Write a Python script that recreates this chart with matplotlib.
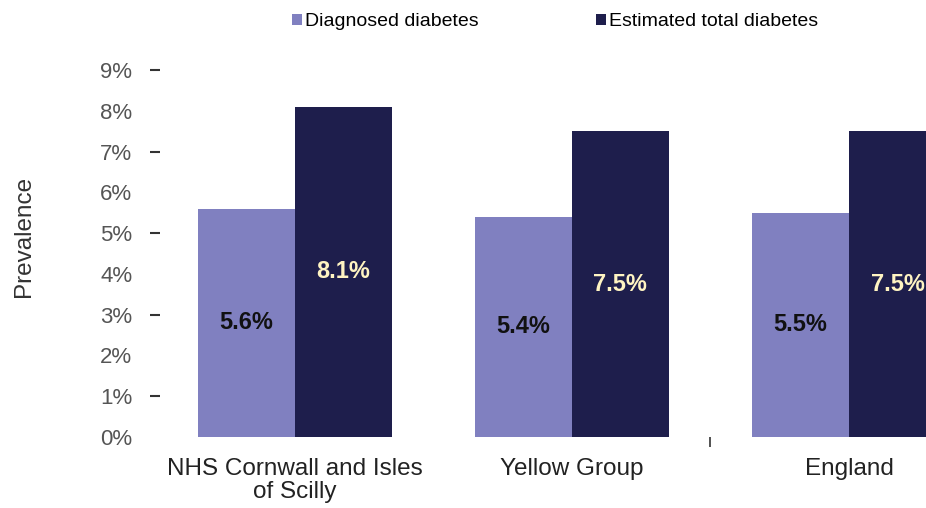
import matplotlib.pyplot as plt
import numpy as np

plt.rcParams['font.family'] = ['Liberation Sans', 'DejaVu Sans']

groups = ['NHS Cornwall and Isles\nof Scilly', 'Yellow Group', 'England']
diagnosed = [5.6, 5.4, 5.5]
estimated = [8.1, 7.5, 7.5]
series_names = ['Diagnosed diabetes', 'Estimated total diabetes']
yticks = list(range(0, 10))

c_diag = '#8080c0'
c_est = '#1e1e4c'

fig = plt.figure(figsize=(9.26, 5.08), dpi=100)
ax = fig.add_axes([160 / 926, 71 / 508, 1 - 160 / 926, 367 / 508])

x = np.arange(len(groups))
w = 0.35
b1 = ax.bar(x - w / 2, diagnosed, w, color=c_diag, label=series_names[0])
b2 = ax.bar(x + w / 2, estimated, w, color=c_est, label=series_names[1])

for rect, v in zip(b1, diagnosed):
    ax.text(rect.get_x() + rect.get_width() / 2, v / 2, f'{v:.1f}%',
            ha='center', va='center', fontsize=17, fontweight='bold', color='#111111')
for rect, v in zip(b2, estimated):
    ax.text(rect.get_x() + rect.get_width() / 2, v / 2, f'{v:.1f}%',
            ha='center', va='center', fontsize=17, fontweight='bold', color='#fff4c2')

ax.set_xlim(-0.487, 2.278)
ax.set_ylim(0, 9)
ax.set_yticks(yticks)
ax.set_yticklabels([f'{t}%' for t in yticks])
ax.tick_params(axis='y', which='major', length=0, pad=20, labelsize=16, labelcolor='#555555')
# short dashes on the odd percentages only
ax.yaxis.remove_overlapping_locs = False
ax.set_yticks([1, 3, 5, 7, 9], minor=True)
ax.tick_params(axis='y', which='minor', length=7, width=1.5, color='#333333',
               direction='out', left=True)

ax.set_xticks(x)
ax.set_xticklabels(groups, linespacing=1.05)
ax.tick_params(axis='x', which='major', length=0, pad=15, labelsize=17.5, labelcolor='#222222')
ax.set_xticks([1.5], minor=True)
ax.tick_params(axis='x', which='minor', length=7, width=1.2, color='#333333', direction='out')

for s in ax.spines.values():
    s.set_visible(False)

ax.set_ylabel('Prevalence', fontsize=17.5, color='#333333')
ax.yaxis.set_label_coords(-125 / 766, (437 - 236) / 367)

fig.legend(handles=[b1, b2], loc='center', bbox_to_anchor=(555 / 926, 1 - 22 / 508),
           ncol=2, frameon=False, fontsize=14, handlelength=0.55, handleheight=0.55,
           handletextpad=0.15, columnspacing=6.0)

fig.savefig('out.png', dpi=100)
